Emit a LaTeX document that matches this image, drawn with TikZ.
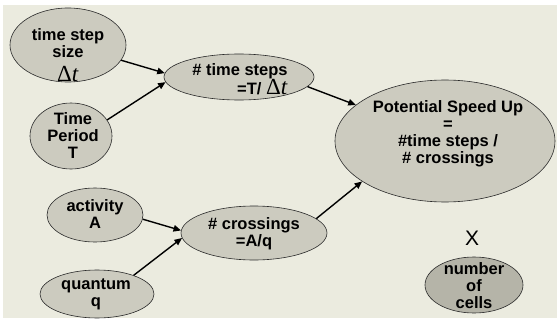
\documentclass[tikz,border=0pt]{standalone}
\usepackage{fontspec}
\setmainfont{Liberation Sans}
\newfontfamily\timesface{Liberation Serif}
\usetikzlibrary{shapes.geometric,arrows.meta}
\definecolor{panel}{HTML}{EBEBDF}
\definecolor{bubble}{HTML}{CCCBBF}
\definecolor{bubbledark}{HTML}{B5B4A8}
\definecolor{rim}{HTML}{2A2A2A}
\tikzset{
  bubblebox/.style={ellipse, draw=rim, line width=0.6pt, fill=bubble, inner sep=0pt},
  txt/.style={font=\bfseries\fontsize{16.5}{17}\selectfont, align=center, inner sep=0pt},
  link/.style={line width=1.4pt, -{Triangle[length=7.5pt,width=6.5pt]}},
}
% the step size symbol, set in a Times-like face
\newcommand{\bigdt}{{\timesface\mdseries\fontsize{23}{23}\selectfont Δ\textit{t}}}
\begin{document}
\begin{tikzpicture}[x=1pt,y=-1pt]
  \useasboundingbox (0,0) rectangle (557,321);
  \fill[panel] (3,5) rectangle (557,318);

  % input quantities
  \node[bubblebox, minimum width=116pt, minimum height=74pt] (tss) at (68,45) {};
  \node[txt] (tss-t) at (68,55) {time step\\size\\[7pt]\bigdt};

  \node[bubblebox, minimum width=82pt, minimum height=66pt] (tp) at (71,136) {};
  \node[txt] (tp-t) at (73,136) {Time\\Period\\T};

  \node[bubblebox, minimum width=96pt, minimum height=54pt] (act) at (95,215) {};
  \node[txt] (act-t) at (95,214) {activity\\A};

  \node[bubblebox, minimum width=114pt, minimum height=48pt] (qu) at (97,294) {};
  \node[txt] (qu-t) at (96,294) {quantum\\q};

  % derived quantities
  \node[bubblebox, minimum width=150pt, minimum height=46pt] (ts) at (239,77) {};
  \node[txt, align=right] (ts-t) at (240,79) {\# time steps\\=T/ \bigdt};

  \node[bubblebox, minimum width=146pt, minimum height=54pt] (cr) at (254,233) {};
  \node[txt] (cr-t) at (254,234) {\# crossings\\=A/q};

  \node[bubblebox, minimum width=220pt, minimum height=122pt] (pot) at (445,141) {};
  \node[txt] (pot-t) at (448,134) {Potential Speed Up\\=\\\#time steps /\\\# crossings};

  \node[font=\fontsize{21}{21}\selectfont, inner sep=0pt] (times) at (472,238) {X};

  \node[bubblebox, fill=bubbledark, minimum width=98pt, minimum height=56pt] (noc) at (474,285) {};
  \node[txt] (noc-t) at (474,286) {number\\of\\cells};

  % dependencies
  \draw[link] (tss.-16) -- (ts.177);
  \draw[link] (tp.24) -- (ts.184);
  \draw[link] (act.-5) -- (cr.178);
  \draw[link] (qu.27) -- (cr.184);
  \draw[link] (ts.-8) -- (pot.158);
  \draw[link] (cr.13) -- (pot.206);
\end{tikzpicture}
\end{document}
